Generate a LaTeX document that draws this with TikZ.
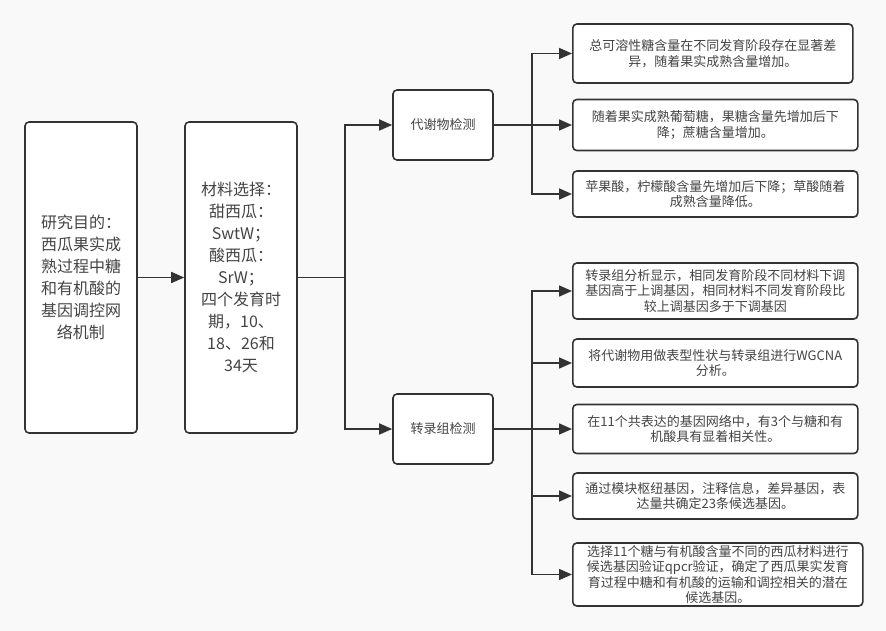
\documentclass[tikz,border=0pt]{standalone}
\usepackage{fontspec}
\setmainfont{Noto Sans CJK SC}
\usetikzlibrary{arrows.meta, positioning}
\definecolor{canvas}{HTML}{F9F9F9}
\definecolor{edgegray}{HTML}{333333}
\definecolor{textgray}{HTML}{444444}

\begin{document}
\begin{tikzpicture}[x=1pt, y=-1pt, ->, >={Triangle[length=13pt, width=11pt]},
    node distance=160pt, align=center]

  \tikzstyle{box}=[draw=edgegray, fill=white, line width=1.6pt, rounded corners=4pt,
    inner sep=0pt, text=textgray]
  \tikzstyle{tall}=[box, minimum width=112pt, minimum height=311pt,
    font=\fontsize{16}{22}\selectfont]
  \tikzstyle{branch}=[box, minimum width=100pt, minimum height=70pt,
    font=\fontsize{13}{16}\selectfont]
  \tikzstyle{finding}=[box, anchor=west, inner xsep=6pt, text width=273pt,
    font=\fontsize{13}{15.5}\selectfont]
  \tikzstyle{link}=[draw=edgegray, line width=1.6pt]

  \fill[canvas, -] (0,0) rectangle (886,631);
  \useasboundingbox (0,0) rectangle (886,631);

  \node[tall] (aim) at (81,277.5) {研究目的：\\西瓜果实成\\熟过程中糖\\和有机酸的\\基因调控网\\络机制};
  \node[tall] (mat) [right of=aim] {材料选择：\\甜西瓜：\\SwtW；\\酸西瓜：\\SrW；\\四个发育时\\期，10、\\18、26和\\34天};
  \node[branch] (meta) at (443,125) {代谢物检测};
  \node[branch] (trans) at (443,429) {转录组检测};

  \node[finding, text width=268pt, minimum height=59pt] (sugar) at (572,53.5)
  {总可溶性糖含量在不同发育阶段存在显著差\\异，随着果实成熟含量增加。};
  \node[finding, minimum height=51pt] (glu) at (572,125)
  {随着果实成熟葡萄糖，果糖含量先增加后下\\降；蔗糖含量增加。};
  \node[finding, minimum height=46pt] (acid) at (572,194)
  {苹果酸，柠檬酸含量先增加后下降；草酸随着\\成熟含量降低。};
  \node[finding, minimum height=56pt] (deg) at (572,291)
  {转录组分析显示，相同发育阶段不同材料下调\\基因高于上调基因，相同材料不同发育阶段比\\较上调基因多于下调基因};
  \node[finding, minimum height=48pt] (wgcna) at (572,363)
  {将代谢物用做表型性状与转录组进行WGCNA\\分析。};
  \node[finding, minimum height=49pt] (net) at (572,429)
  {在11个共表达的基因网络中，有3个与糖和有\\机酸具有显着相关性。};
  \node[finding, minimum height=46pt] (hub) at (572,496)
  {通过模块枢纽基因，注释信息，差异基因，表\\达量共确定23条候选基因。};
  \node[finding, text width=278pt, minimum height=63pt] (qpcr) at (572,574.5)
  {选择11个糖与有机酸含量不同的西瓜材料进行\\候选基因验证qpcr验证，确定了西瓜果实发育\\育过程中糖和有机酸的运输和调控相关的潜在\\候选基因。};

  \coordinate (split) at (345,277.5);
  \coordinate (metafork) at (532,125);
  \coordinate (transfork) at (532,429);

  % main chain
  \draw[link] (aim) -- (mat);
  \draw[link, -] (mat) -- (split);
  \draw[link] (split) |- (meta);
  \draw[link] (split) |- (trans);

  % metabolite results
  \draw[link] (meta) -- (glu);
  \draw[link] (metafork) |- (sugar);
  \draw[link] (metafork) |- (acid);

  % transcriptome results
  \draw[link] (trans) -- (net);
  \draw[link] (transfork) |- (deg);
  \draw[link] (transfork) |- (wgcna);
  \draw[link] (transfork) |- (hub);
  \draw[link] (transfork) |- (qpcr);
\end{tikzpicture}
\end{document}
